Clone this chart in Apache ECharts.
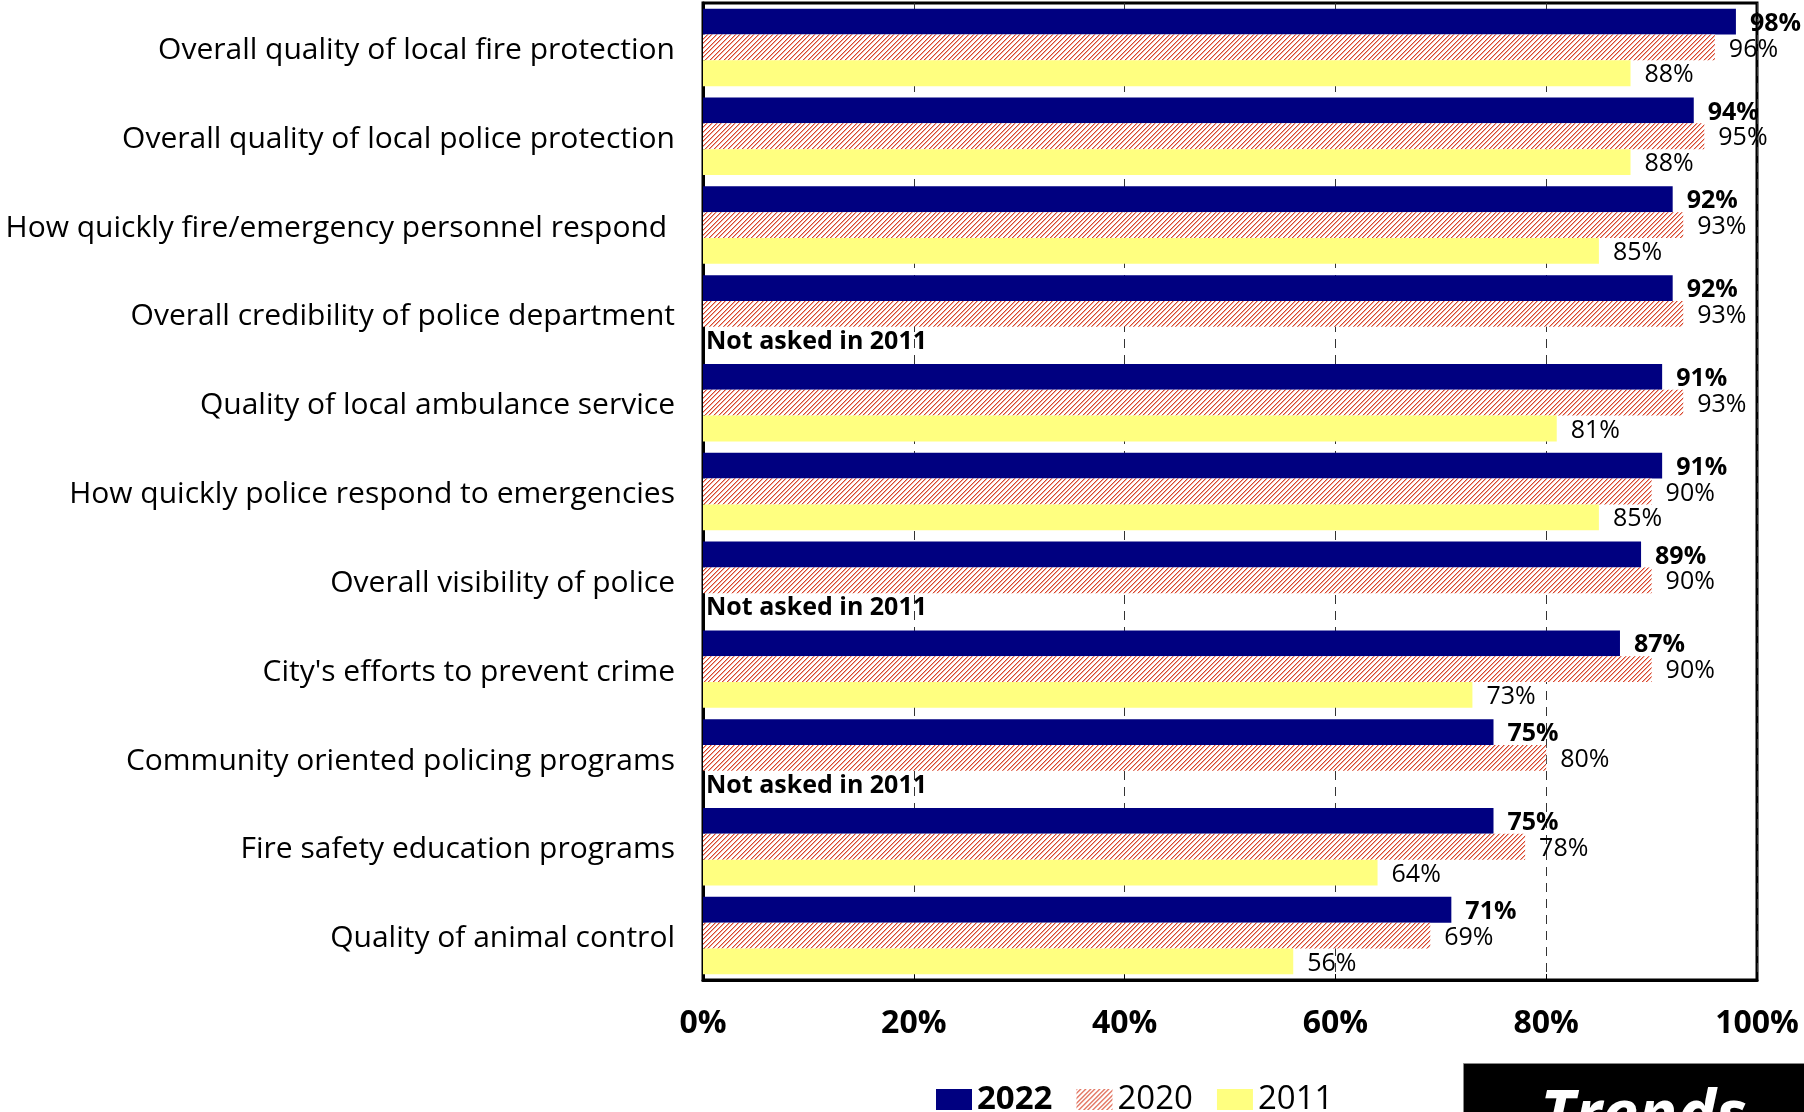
<!DOCTYPE html>
<html>
<head>
<meta charset="utf-8">
<script src="https://cdn.jsdelivr.net/npm/echarts@6/dist/echarts.min.js"></script>
<style>
html,body{margin:0;padding:0;background:#fff;}
#chart{width:1804px;height:1112px;}
</style>
</head>
<body>
<div id="chart"></div>
<script>
const categories = [
  'Overall quality of local fire protection',
  'Overall quality of local police protection',
  'How quickly fire/emergency personnel respond ',
  'Overall credibility of police department',
  'Quality of local ambulance service',
  'How quickly police respond to emergencies',
  'Overall visibility of police',
  "City's efforts to prevent crime",
  'Community oriented policing programs',
  'Fire safety education programs',
  'Quality of animal control'
];
const values2022 = [98, 94, 92, 92, 91, 91, 89, 87, 75, 75, 71];
const values2020 = [96, 95, 93, 93, 93, 90, 90, 90, 80, 78, 69];
const values2011 = [88, 88, 85, null, 81, 85, null, 73, null, 64, 56];
const seriesNames = ['2022', '2020', '2011'];
const xTicks = [0, 20, 40, 60, 80, 100];
const notAskedText = 'Not asked in 2011';

const FONT = 'Open Sans';

function hatchPattern() {
  const s = 14, p = s / 3;
  const c = document.createElement('canvas');
  c.width = s; c.height = s;
  const g = c.getContext('2d');
  g.fillStyle = '#ffffff';
  g.fillRect(0, 0, s, s);
  for (let y = 0; y < s; y++) {
    for (let k = 0; k < 3; k++) {
      const xf = ((k * p + s - y - 1) % s + s) % s;
      const x = Math.floor(xf);
      g.fillStyle = '#D9462C';
      g.fillRect(x, y, 1, 1);
      g.fillStyle = 'rgba(217,70,44,0.45)';
      g.fillRect((x + 1) % s, y, 1, 1);
    }
  }
  return c;
}

const chart = echarts.init(document.getElementById('chart'), null, {renderer: 'canvas'});

const labelBase = {
  show: true, position: 'right', distance: 14, color: '#000',
  fontFamily: FONT, fontSize: 25, offset: [0, 2],
  formatter: p => p.value + '%'
};

const data2011 = values2011.map(v => v === null
  ? {value: 0, label: {formatter: notAskedText, fontWeight: 'bold', distance: 3, fontSize: 25}}
  : v);

const option = {
  animation: false,
  backgroundColor: '#ffffff',
  textStyle: {fontFamily: FONT},
  grid: {
    left: 703, right: 47, top: 3, bottom: 132,
    show: true, borderColor: '#000', borderWidth: 3, backgroundColor: 'transparent'
  },
  legend: {
    data: [{name: seriesNames[0], textStyle: {fontWeight: 'bold'}}, seriesNames[1], seriesNames[2]],
    left: 936, top: 1083, padding: 0,
    icon: 'rect',
    itemWidth: 36, itemHeight: 21, itemGap: 24,
    textStyle: {fontFamily: FONT, fontSize: 33, color: '#000'},
    selectedMode: false
  },
  xAxis: {
    type: 'value', min: 0, max: 100, interval: 20,
    axisLine: {show: true, lineStyle: {color: '#000', width: 3}},
    axisTick: {show: true, inside: true, length: 6, lineStyle: {color: '#000', width: 1}},
    splitLine: {show: true, lineStyle: {color: '#333', width: 1, type: [9, 7]}},
    axisLabel: {
      margin: 28, color: '#000', fontFamily: FONT, fontSize: 32, fontWeight: 'bold',
      formatter: v => (xTicks.indexOf(v) >= 0 ? v + '%' : '')
    }
  },
  yAxis: {
    type: 'category', data: categories, inverse: true,
    axisLine: {show: true, lineStyle: {color: '#000', width: 3}},
    axisTick: {show: false},
    axisLabel: {
      margin: 28, color: '#000', fontFamily: FONT, fontSize: 30,
      formatter: v => '{a|' + v + '}',
      rich: {a: {fontFamily: FONT, fontSize: 30, color: '#000', padding: [6, 0, 0, 0]}}
    }
  },
  series: [
    {
      name: seriesNames[0], type: 'bar', data: values2022,
      barGap: '0%', barCategoryGap: '12.8%',
      itemStyle: {color: '#000080'},
      label: Object.assign({}, labelBase, {fontWeight: 'bold'})
    },
    {
      name: seriesNames[1], type: 'bar', data: values2020,
      barGap: '0%', barCategoryGap: '12.8%',
      itemStyle: {color: {image: hatchPattern(), repeat: 'repeat'}},
      label: Object.assign({}, labelBase)
    },
    {
      name: seriesNames[2], type: 'bar', data: data2011,
      barGap: '0%', barCategoryGap: '12.8%',
      itemStyle: {color: '#FFFF80'},
      label: Object.assign({}, labelBase)
    }
  ],
  graphic: [
    {
      type: 'rect', left: 1463, top: 1063, z: 10,
      shape: {width: 341, height: 60},
      style: {fill: '#000', stroke: '#888', lineWidth: 1}
    },
    {
      type: 'text', left: 1540, top: 1085, z: 11,
      style: {text: 'Trends', fill: '#fff', fontFamily: FONT, fontSize: 65, fontWeight: 'bold', fontStyle: 'italic'}
    }
  ]
};
chart.setOption(option);
</script>
</body>
</html>
